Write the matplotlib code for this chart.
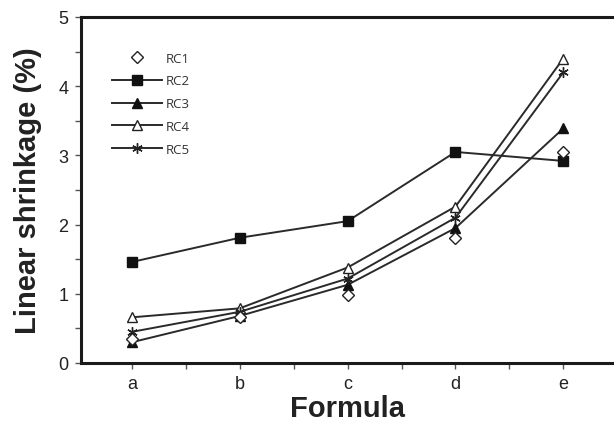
import matplotlib
matplotlib.use("Agg")
import matplotlib.pyplot as plt
from matplotlib.ticker import MultipleLocator

formulas = ["a", "b", "c", "d", "e"]
rc1 = [0.34, 0.67, 0.98, 1.80, 3.05]
rc2 = [1.46, 1.81, 2.05, 3.05, 2.92]
rc3 = [0.30, 0.68, 1.13, 1.95, 3.39]
rc4 = [0.66, 0.79, 1.38, 2.26, 4.40]
rc5 = [0.45, 0.74, 1.22, 2.10, 4.20]
series_names = ["RC1", "RC2", "RC3", "RC4", "RC5"]

plt.rcParams['font.family'] = ['Liberation Sans', 'DejaVu Sans']

fig = plt.figure(figsize=(6.14, 4.31), dpi=100)
ax = fig.add_axes([81/614, 1-364/431, 1-81/614, 346/431])

x = list(range(len(formulas)))
lc = "#2a2a2a"
ms = 7
ax.plot(x, rc2, color=lc, lw=1.4, marker="s", ms=ms, mfc="#111111", mec="#111111", label=series_names[1], zorder=3)
ax.plot(x, rc3, color=lc, lw=1.4, marker="^", ms=ms+0.5, mfc="#111111", mec="#111111", label=series_names[2], zorder=3)
ax.plot(x, rc4, color=lc, lw=1.4, marker="^", ms=ms+0.5, mfc="white", mec="#222222", mew=1.0, label=series_names[3], zorder=3)
ax.plot(x, rc5, color=lc, lw=1.4, marker=(6, 2, 0), ms=ms+0.5, mec="#222222", mew=1.0, label=series_names[4], zorder=3)
ax.plot(x, rc1, ls="none", marker="D", ms=6, mfc="white", mec="#222222", mew=1.0, label=series_names[0], zorder=4)

ax.set_xlim(-0.472, 4.47)
ax.set_ylim(0, 5)
ax.set_xticks(x)
ax.set_xticklabels(formulas)
ax.xaxis.set_minor_locator(MultipleLocator(0.5))
ax.yaxis.set_major_locator(MultipleLocator(1))
ax.yaxis.set_minor_locator(MultipleLocator(0.5))

for s in ["left", "bottom", "top"]:
    ax.spines[s].set_linewidth(2.2)
    ax.spines[s].set_color("#1a1a1a")
ax.spines["right"].set_visible(False)

ax.tick_params(which="both", direction="out", color="#555555", width=1.0, labelsize=13, colors="#222222")
ax.tick_params(which="major", length=4, pad=5)
ax.tick_params(which="minor", length=4)

ax.set_xlabel("Formula", fontsize=21, fontweight="bold", labelpad=1, color="#222222")
ax.set_ylabel("Linear shrinkage (%)", fontsize=21, fontweight="bold", labelpad=12, color="#222222")

handles, labels = ax.get_legend_handles_labels()
order = [4, 0, 1, 2, 3]
leg = ax.legend([handles[i] for i in order], [labels[i] for i in order],
                loc="upper left", bbox_to_anchor=(0.035, 0.934), frameon=False,
                handlelength=3.8, handletextpad=0.3, labelspacing=0.74,
                prop={"family": "Open Sans", "size": 9.5})
for t in leg.get_texts():
    t.set_color("#333333")

fig.savefig("out.png", dpi=100)
